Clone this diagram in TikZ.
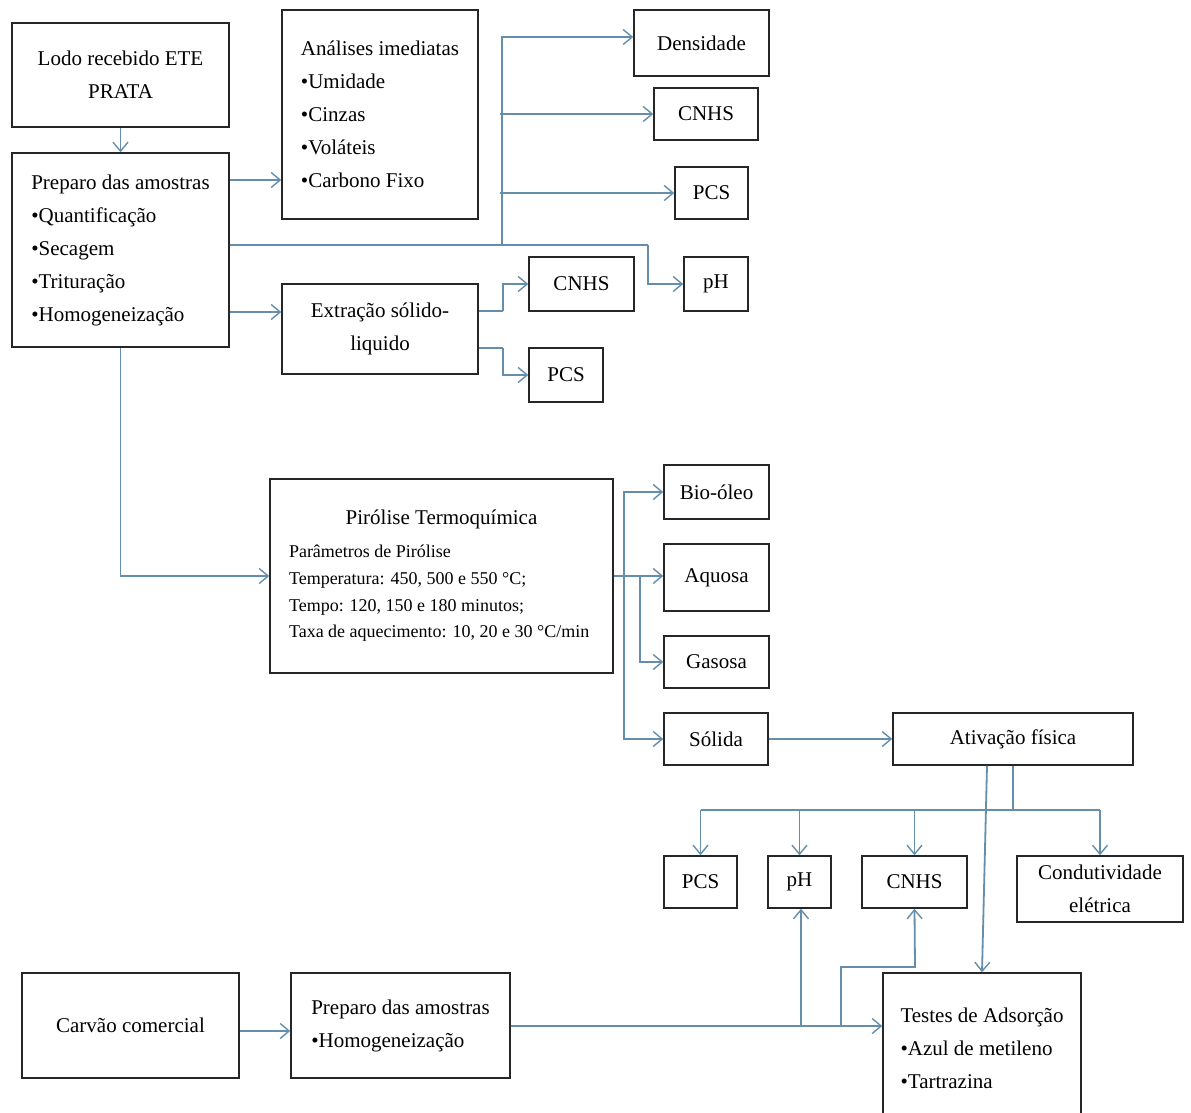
\documentclass[tikz,border=0pt]{standalone}
\usepackage{fontspec}
\setmainfont{Liberation Serif}
\usetikzlibrary{arrows.meta}
\definecolor{conncol}{RGB}{100,142,172}
\begin{document}
\begin{tikzpicture}[x=1pt,y=-1pt,
  box/.style={draw=black!85, line width=1.5pt, fill=white, inner sep=2pt, align=center,
              font=\fontsize{21}{33}\selectfont},
  conn/.style={draw=conncol, line width=1.8pt},
  arr/.style={conn, -{Straight Barb[length=9pt,width=15pt,line width=1.4pt]}}]
\useasboundingbox[fill=white] (0,0) rectangle (1191,1113);

% ---- nodes ----
\node[box, minimum width=217pt, minimum height=104pt] (lodo) at (120.5,75) {Lodo recebido ETE\\PRATA};
\node[box, minimum width=217pt, minimum height=194pt, align=left] (preparo) at (120.5,250)
  {Preparo das amostras\\•Quantificação\\•Secagem\\•Trituração\\•Homogeneização};
\node[box, minimum width=196pt, minimum height=209pt, align=left] (analises) at (380,114.5)
  {Análises imediatas\\•Umidade\\•Cinzas\\•Voláteis\\•Carbono Fixo};
\node[box, minimum width=135pt, minimum height=66pt] (dens) at (701.5,43) {Densidade};
\node[box, minimum width=104pt, minimum height=52pt] (cnhsA) at (706,114) {CNHS};
\node[box, minimum width=73pt, minimum height=52pt] (pcsA) at (711.5,193) {PCS};
\node[box, minimum width=64pt, minimum height=54pt] (phA) at (716,284) {pH};
\node[box, minimum width=196pt, minimum height=90pt] (extr) at (380,329) {Extração sólido-\\liquido};
\node[box, minimum width=105pt, minimum height=54pt] (cnhsB) at (581.5,284) {CNHS};
\node[box, minimum width=74pt, minimum height=54pt] (pcsB) at (566,375) {PCS};
\node[box, minimum width=343pt, minimum height=194pt, align=left,
      font=\fontsize{18}{26.7}\selectfont] (piro) at (441.5,576)
  {\makebox[305pt][c]{\fontsize{21}{25}\selectfont Pirólise Termoquímica}\\[6pt]
   Parâmetros de Pirólise\\
   Temperatura: 450, 500 e 550 °C;\\
   Tempo: 120, 150 e 180 minutos;\\
   Taxa de aquecimento: 10, 20 e 30 °C/min};
\node[box, minimum width=105pt, minimum height=54pt] (bio) at (716.5,492) {Bio-óleo};
\node[box, minimum width=105pt, minimum height=67pt] (aquosa) at (716.5,577.5) {Aquosa};
\node[box, minimum width=105pt, minimum height=52pt] (gasosa) at (716.5,662) {Gasosa};
\node[box, minimum width=104pt, minimum height=52pt] (solida) at (716,739) {Sólida};
\node[box, minimum width=240pt, minimum height=52pt] (ativ) at (1013,739) {Ativação física};
\node[box, minimum width=73pt, minimum height=52pt] (pcsC) at (700.5,882) {PCS};
\node[box, minimum width=63pt, minimum height=52pt] (phC) at (799.5,882) {pH};
\node[box, minimum width=105pt, minimum height=52pt] (cnhsC) at (914.5,882) {CNHS};
\node[box, minimum width=166pt, minimum height=66pt] (cond) at (1100,889) {Condutividade\\elétrica};
\node[box, minimum width=198pt, minimum height=150pt, align=left] (testes) at (982,1048)
  {Testes de Adsorção\\•Azul de metileno\\•Tartrazina};
\node[box, minimum width=217pt, minimum height=105pt] (carvao) at (130.5,1025.5) {Carvão comercial};
\node[box, minimum width=219pt, minimum height=105pt, align=left] (prepB) at (400.5,1025.5)
  {Preparo das amostras\\•Homogeneização};

% ---- junction coordinates ----
\coordinate (jTop) at (502,245);
\coordinate (jPh) at (648,245);
\coordinate (jExt) at (503,311);
\coordinate (jExtB) at (503,348);
\coordinate (jPiro) at (624,576);
\coordinate (jGas) at (640,576);
\coordinate (jAtiv) at (1013,810);
\coordinate (jPhC) at (801,1026);
\coordinate (jCnC) at (841,1026);

% ---- connectors ----
\draw[arr] (lodo.south) -- (preparo.north);
\draw[arr] (preparo.east |- 0,180) -- (analises.west |- 0,180);
\draw[conn] (preparo.east |- 0,245) -- (jPh);
\draw[arr] (jPh) |- (phA.west);
\draw[arr] (jTop) |- (dens.west |- 0,37);
\draw[arr] (500,114) -- (cnhsA.west);
\draw[arr] (500,193) -- (pcsA.west);
\draw[arr] (preparo.east |- 0,312) -- (extr.west |- 0,312);
\draw[conn] (extr.east |- jExt) -- (jExt);
\draw[arr] (jExt) |- (cnhsB.west);
\draw[conn] (extr.east |- jExtB) -- (jExtB);
\draw[arr] (jExtB) |- (pcsB.west);
\draw[arr] (preparo.south) |- (piro.west);
\draw[arr] (piro.east) -- (aquosa.west |- piro.east);
\draw[arr] (jPiro) |- (bio.west);
\draw[arr] (jPiro) |- (solida.west);
\draw[arr] (jGas) |- (gasosa.west);
\draw[arr] (solida.east) -- (ativ.west);
\draw[conn] (ativ.south) -- (jAtiv);
\draw[conn] (pcsC.north |- jAtiv) -- (cond.north |- jAtiv);
\draw[arr] (pcsC.north |- jAtiv) -- (pcsC.north);
\draw[arr] (phC.north |- jAtiv) -- (phC.north);
\draw[arr] (cnhsC.north |- jAtiv) -- (cnhsC.north);
\draw[arr] (cond.north |- jAtiv) -- (cond.north);
\draw[arr] ([xshift=-26pt]ativ.south) -- (testes.north);
\draw[arr] (carvao.east |- 0,1031) -- (prepB.west |- 0,1031);
\draw[arr] (prepB.east |- 0,1026) -- (testes.west |- 0,1026);
\draw[arr] (jPhC) -- (phC.south -| jPhC);
\draw[arr] (jCnC) |- (915,967) -- (cnhsC.south);
\end{tikzpicture}
\end{document}
